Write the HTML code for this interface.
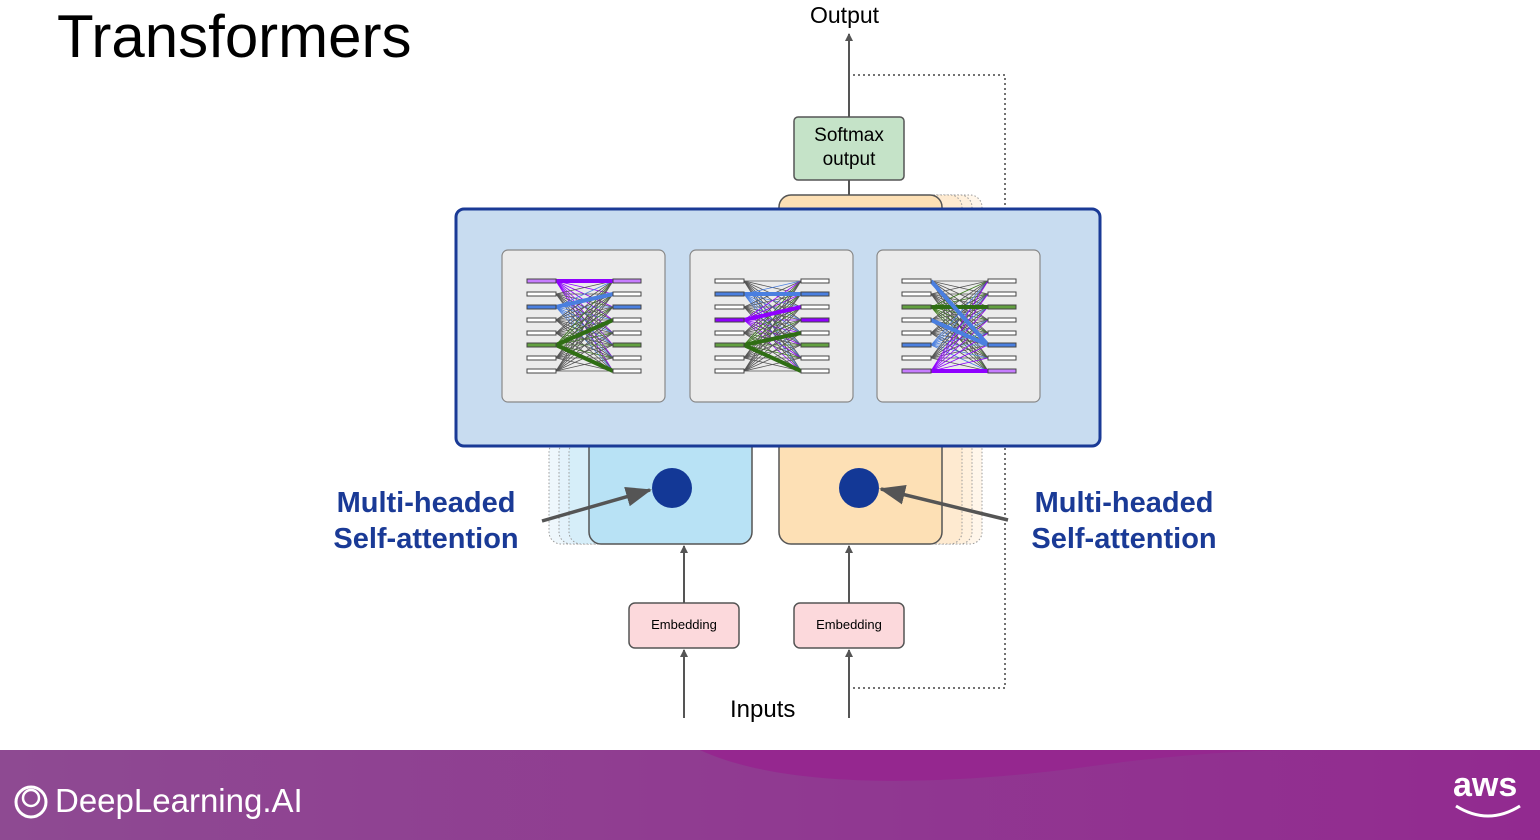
<!DOCTYPE html>
<html><head><style>
body{margin:0;width:1540px;height:840px;overflow:hidden;background:#fff;font-family:"Liberation Sans",sans-serif;position:relative}
.t{position:absolute;white-space:nowrap}
</style></head><body>
<svg id="s" width="1540" height="840" style="position:absolute;left:0;top:0">
<defs>
<marker id="a" markerWidth="8" markerHeight="8" refX="7" refY="4" orient="auto" markerUnits="userSpaceOnUse"><path d="M0,0 L8,4 L0,8 z" fill="#555"/></marker>
<marker id="b" markerWidth="26" markerHeight="20" refX="24" refY="10" orient="auto" markerUnits="userSpaceOnUse"><path d="M0,0 L26,10 L0,20 z" fill="#555"/></marker>
<linearGradient id="g" x1="0" x2="1"><stop offset="0" stop-color="#8e4a92"/><stop offset="1" stop-color="#922a90"/></linearGradient>
</defs>
<path d="M853,75 H1005 V688 H853" fill="none" stroke="#444" stroke-width="1.5" stroke-dasharray="2,3"/>
<line x1="849" y1="117" x2="849" y2="34" stroke="#555" stroke-width="2" marker-end="url(#a)"/>
<line x1="849" y1="180" x2="849" y2="196" stroke="#555" stroke-width="2"/>
<g fill="none" stroke="#999" stroke-dasharray="1.5,2">
<rect x="549" y="440" width="163" height="104" rx="12" fill="#eef7fc"/>
<rect x="559" y="440" width="163" height="104" rx="12" fill="#e3f2fb"/>
<rect x="569" y="440" width="163" height="104" rx="12" fill="#d6eef9"/>
<rect x="819" y="195" width="163" height="349" rx="12" fill="#fff6ea"/>
<rect x="809" y="195" width="163" height="349" rx="12" fill="#fff0dc"/>
<rect x="799" y="195" width="163" height="349" rx="12" fill="#feead0"/>
</g>
<rect x="589" y="430" width="163" height="114" rx="12" fill="#b8e2f5" stroke="#555" stroke-width="1.5"/>
<rect x="779" y="195" width="163" height="349" rx="12" fill="#fde0b5" stroke="#555" stroke-width="1.5"/>
<rect x="456" y="209" width="644" height="237" rx="8" fill="#c8dcf0" stroke="#1a3a96" stroke-width="3"/>
<g id="panels"></g>
<rect x="794" y="117" width="110" height="63" rx="4" fill="#c5e3c8" stroke="#555" stroke-width="1.5"/>
<circle cx="672" cy="488" r="20" fill="#133896"/>
<circle cx="859" cy="488" r="20" fill="#133896"/>
<line x1="542" y1="521" x2="650" y2="490" stroke="#555" stroke-width="3.5" marker-end="url(#b)"/>
<line x1="1008" y1="520" x2="881" y2="489" stroke="#555" stroke-width="3.5" marker-end="url(#b)"/>
<line x1="684" y1="603" x2="684" y2="546" stroke="#555" stroke-width="2" marker-end="url(#a)"/>
<line x1="849" y1="603" x2="849" y2="546" stroke="#555" stroke-width="2" marker-end="url(#a)"/>
<line x1="684" y1="718" x2="684" y2="650" stroke="#555" stroke-width="2" marker-end="url(#a)"/>
<line x1="849" y1="718" x2="849" y2="650" stroke="#555" stroke-width="2" marker-end="url(#a)"/>
<rect x="629" y="603" width="110" height="45" rx="6" fill="#fcd9dc" stroke="#555" stroke-width="1.5"/>
<rect x="794" y="603" width="110" height="45" rx="6" fill="#fcd9dc" stroke="#555" stroke-width="1.5"/>
<rect x="0" y="750" width="1540" height="90" fill="url(#g)"/>
<path d="M700,750 C790,792 960,785 1100,765 C1200,752 1260,750 1310,750 Z" fill="#95278f"/>
<circle cx="31" cy="802" r="15" fill="none" stroke="#fff" stroke-width="3"/>
<circle cx="31" cy="798" r="8" fill="none" stroke="#fff" stroke-width="2.5"/>
<path d="M1456,806 Q1488,826 1520,806" fill="none" stroke="#fff" stroke-width="3"/>
</svg>
<div class="t" style="left:57px;top:2px;font-size:60px;color:#000">Transformers</div>
<div class="t" style="left:810px;top:2px;font-size:23px">Output</div>
<div class="t" style="left:794px;top:124px;width:110px;text-align:center;font-size:19px;line-height:24px">Softmax<br>output</div>
<div class="t" style="left:629px;top:617px;width:110px;text-align:center;font-size:13px">Embedding</div>
<div class="t" style="left:794px;top:617px;width:110px;text-align:center;font-size:13px">Embedding</div>
<div class="t" style="left:730px;top:696px;font-size:24px">Inputs</div>
<div class="t" style="left:326px;top:485px;width:200px;text-align:center;font-size:29px;line-height:36px;color:#1a3a96;font-weight:bold">Multi-headed<br>Self-attention</div>
<div class="t" style="left:1024px;top:485px;width:200px;text-align:center;font-size:29px;line-height:36px;color:#1a3a96;font-weight:bold">Multi-headed<br>Self-attention</div>
<div class="t" style="left:55px;top:782px;font-size:33px;color:#fff">DeepLearning.AI</div>
<div class="t" style="left:1453px;top:766px;font-size:34px;color:#fff;font-weight:bold">aws</div>
<script>
var ns="http://www.w3.org/2000/svg",G=document.getElementById("panels");
function el(t,a){var e=document.createElementNS(ns,t);for(var k in a)e.setAttribute(k,a[k]);G.appendChild(e);return e;}
var rows=[281,294,307,320,333,345,358,371];
var cfg=[
 {x:502,hl:[[0,"#8f00ff","#c77dff"],[2,"#4a7fe0","#4a7fe0"],[5,"#3a7a1a","#62a040"]],thick:[[0,0,"#8f00ff"],[2,1,"#4a7fe0"],[5,3,"#2f6e14"],[5,7,"#2f6e14"]]},
 {x:690,hl:[[1,"#4a7fe0","#4a7fe0"],[3,"#8f00ff","#8f00ff"],[5,"#3a7a1a","#62a040"]],thick:[[3,2,"#8f00ff"],[1,1,"#4a7fe0"],[5,4,"#2f6e14"],[5,7,"#2f6e14"]]},
 {x:877,hl:[[2,"#3a7a1a","#62a040"],[5,"#4a7fe0","#4a7fe0"],[7,"#8f00ff","#c77dff"]],thick:[[2,2,"#2f6e14"],[0,5,"#4a7fe0"],[3,5,"#4a7fe0"],[7,7,"#8f00ff"]]}
];
cfg.forEach(function(c){
 el("rect",{x:c.x,y:250,width:163,height:152,rx:6,fill:"#ebebeb",stroke:"#888","stroke-width":1.2});
 var L=c.x+54,R=c.x+111;
 for(var i=0;i<8;i++)for(var j=0;j<8;j++){
  var col="#555";c.hl.forEach(function(h){if(h[0]==i)col=h[1];});
  el("line",{x1:L,y1:rows[i],x2:R,y2:rows[j],stroke:col,"stroke-width":0.8});
 }
 c.thick.forEach(function(t){el("line",{x1:L,y1:rows[t[0]],x2:R,y2:rows[t[1]],stroke:t[2],"stroke-width":4});});
 for(var i=0;i<8;i++){
  var f="#fff";c.hl.forEach(function(h){if(h[0]==i)f=h[2];});
  el("rect",{x:c.x+25,y:rows[i]-2,width:29,height:4,fill:f,stroke:"#444","stroke-width":1});
  el("rect",{x:R,y:rows[i]-2,width:28,height:4,fill:f,stroke:"#444","stroke-width":1});
 }
});
</script>
</body></html>
